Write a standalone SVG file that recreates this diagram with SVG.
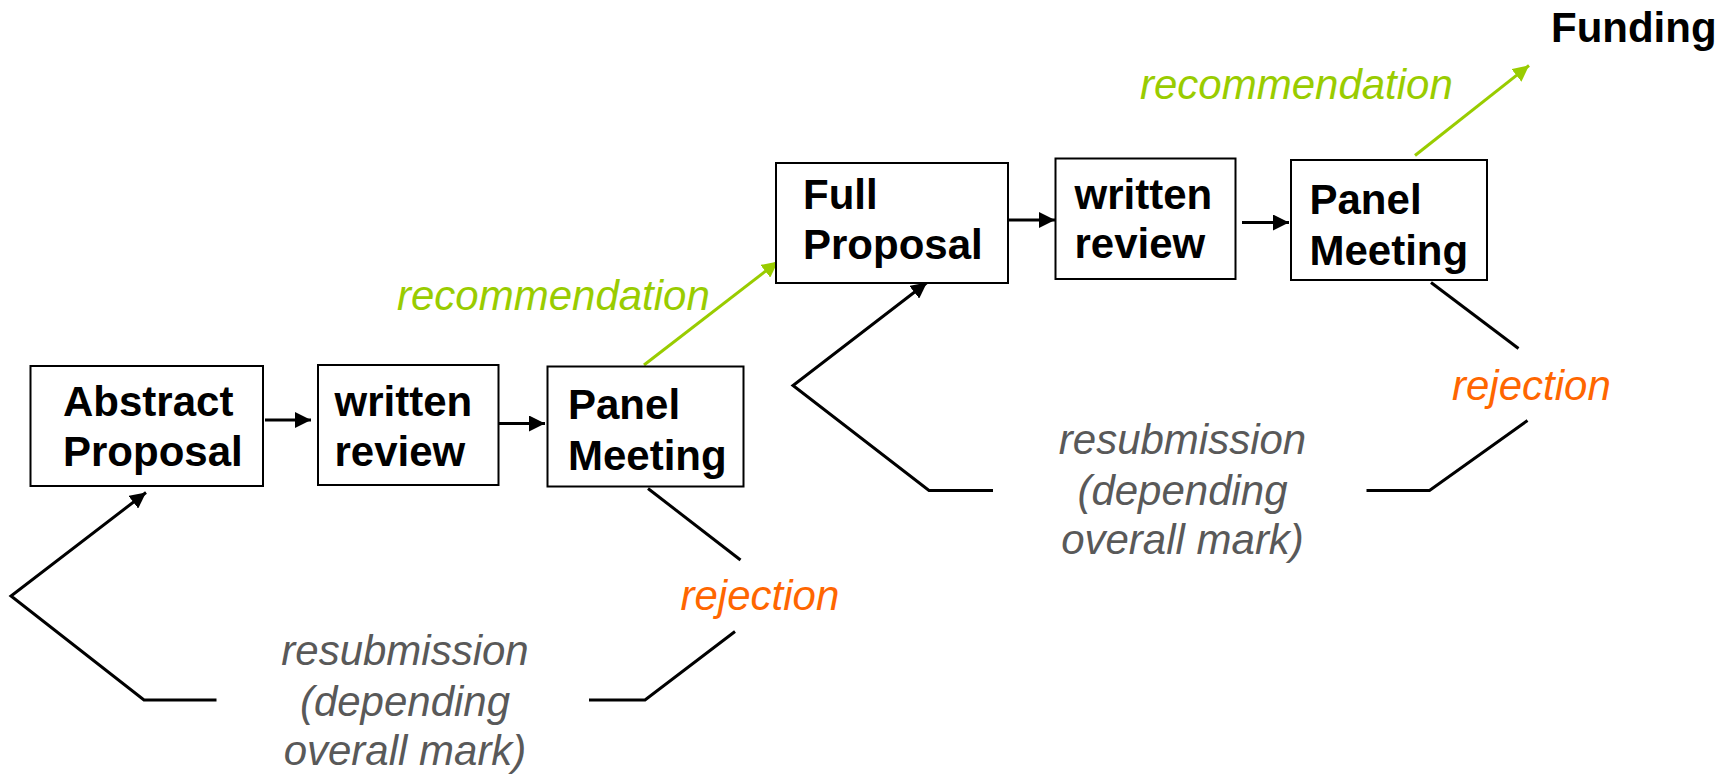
<svg xmlns="http://www.w3.org/2000/svg" width="1729" height="776" viewBox="0 0 1729 776">
  <style>
    .box { fill: #ffffff; stroke: #000000; stroke-width: 2; }
    .lbl { font-family: "Liberation Sans", Arial, sans-serif; font-size: 42px; font-weight: bold; fill: #000000; }
    .rec { font-family: "Liberation Sans", Arial, sans-serif; font-size: 42px; font-style: italic; fill: #99cc00; }
    .rej { font-family: "Liberation Sans", Arial, sans-serif; font-size: 42px; font-style: italic; fill: #ff6600; }
    .res { font-family: "Liberation Sans", Arial, sans-serif; font-size: 42px; font-style: italic; fill: #595959; text-anchor: middle; }
    .conn { fill: none; stroke: #000000; stroke-width: 3; stroke-linejoin: miter; }
    .green { fill: none; stroke: #99cc00; stroke-width: 3; }
  </style>
  <defs>
    <marker id="ah" markerUnits="userSpaceOnUse" markerWidth="18" markerHeight="16" refX="16" refY="8" orient="auto">
      <path d="M0,0 L16,8 L0,16 Z" fill="#000000"/>
    </marker>
    <marker id="ahg" markerUnits="userSpaceOnUse" markerWidth="18" markerHeight="16" refX="16" refY="8" orient="auto">
      <path d="M0,0 L16,8 L0,16 Z" fill="#99cc00"/>
    </marker>
  </defs>
  <rect width="1729" height="776" fill="#ffffff"/>

  <g id="connectors">
    <line class="conn" x1="265" y1="420" x2="311" y2="420" marker-end="url(#ah)"/>
    <line class="conn" x1="499" y1="423.5" x2="545" y2="423.5" marker-end="url(#ah)"/>
    <line class="conn" x1="1009" y1="220" x2="1055" y2="220" marker-end="url(#ah)"/>
    <line class="conn" x1="1242" y1="222.5" x2="1289" y2="222.5" marker-end="url(#ah)"/>
    <line class="green" x1="644" y1="365" x2="778" y2="261.5" marker-end="url(#ahg)"/>
    <line class="green" x1="1415" y1="155.5" x2="1529" y2="65.5" marker-end="url(#ahg)"/>
    <polyline class="conn" points="216.5,700 144,700 11,596 146,492.5" marker-end="url(#ah)"/>
    <line class="conn" x1="648" y1="488.5" x2="740.5" y2="560"/>
    <polyline class="conn" points="735,631.5 645,700 589,700"/>
    <polyline class="conn" points="993,490.5 929,490.5 793,385.5 927,282.5" marker-end="url(#ah)"/>
    <line class="conn" x1="1431" y1="282.5" x2="1518.5" y2="348.5"/>
    <polyline class="conn" points="1527.5,420.5 1429.5,490.5 1366.5,490.5"/>
  </g>

  <g id="abstract-proposal">
    <rect class="box" x="30.5" y="366" width="232.5" height="120"/>
    <text class="lbl" x="63" y="415.5">Abstract</text>
    <text class="lbl" x="63" y="465.5">Proposal</text>
  </g>
  <g id="written-review-1">
    <rect class="box" x="318" y="365" width="180.5" height="120"/>
    <text class="lbl" x="334.5" y="415.5">written</text>
    <text class="lbl" x="334.5" y="465.5">review</text>
  </g>
  <g id="panel-meeting-1">
    <rect class="box" x="547.5" y="366.5" width="196" height="120"/>
    <text class="lbl" x="568" y="419">Panel</text>
    <text class="lbl" x="568" y="470">Meeting</text>
  </g>
  <g id="full-proposal">
    <rect class="box" x="776" y="163" width="232" height="120"/>
    <text class="lbl" x="803" y="208.5">Full</text>
    <text class="lbl" x="803" y="258.5">Proposal</text>
  </g>
  <g id="written-review-2">
    <rect class="box" x="1055.5" y="158.5" width="180" height="120.5"/>
    <text class="lbl" x="1074.5" y="208.5">written</text>
    <text class="lbl" x="1074.5" y="258">review</text>
  </g>
  <g id="panel-meeting-2">
    <rect class="box" x="1291" y="160" width="196" height="120"/>
    <text class="lbl" x="1309.5" y="213.5">Panel</text>
    <text class="lbl" x="1309.5" y="264.5">Meeting</text>
  </g>
  <g id="funding">
    <text class="lbl" x="1551" y="42">Funding</text>
  </g>

  <g id="labels">
    <text class="rec" x="397" y="309.5">recommendation</text>
    <text class="rec" x="1140" y="98.5">recommendation</text>
    <text class="rej" x="680.5" y="609.5">rejection</text>
    <text class="rej" x="1452" y="399.5">rejection</text>
    <text class="res" x="405" y="665">resubmission</text>
    <text class="res" x="405" y="716">(depending</text>
    <text class="res" x="405" y="765">overall mark)</text>
    <text class="res" x="1182.5" y="454">resubmission</text>
    <text class="res" x="1182.5" y="505">(depending</text>
    <text class="res" x="1182.5" y="554">overall mark)</text>
  </g>
</svg>
